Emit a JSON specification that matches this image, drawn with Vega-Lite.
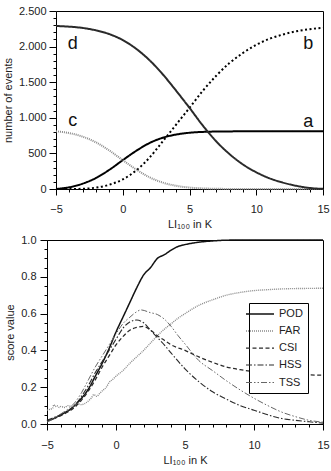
{
  "$schema": "https://vega.github.io/schema/vega-lite/v6.json",
  "padding": {"left": 2, "top": 5, "right": 0, "bottom": 0},
  "background": "white",
  "spacing": 4,
  "resolve": {
    "scale": {"color": "independent", "strokeDash": "independent", "strokeWidth": "independent"},
    "legend": {"color": "independent", "strokeDash": "independent"}
  },
  "config": {
    "font": "Liberation Sans",
    "view": {"stroke": "#000", "strokeWidth": 1},
    "axis": {
      "grid": false,
      "domainColor": "#000",
      "tickColor": "#000",
      "labelColor": "#222",
      "titleColor": "#222",
      "labelFont": "Liberation Sans",
      "titleFont": "Liberation Sans",
      "labelFontSize": 11,
      "titleFontSize": 11,
      "titleFontWeight": "normal"
    },
    "legend": {"labelFont": "Liberation Sans"}
  },
  "datasets": {
    "counts": [
      {"x": -5, "curve": "a", "n": 0}, {"x": -4, "curve": "a", "n": 25}, {"x": -3, "curve": "a", "n": 75},
      {"x": -2, "curve": "a", "n": 155}, {"x": -1, "curve": "a", "n": 270}, {"x": 0, "curve": "a", "n": 405},
      {"x": 1, "curve": "a", "n": 535}, {"x": 2, "curve": "a", "n": 645}, {"x": 3, "curve": "a", "n": 720},
      {"x": 4, "curve": "a", "n": 765}, {"x": 5, "curve": "a", "n": 790}, {"x": 6, "curve": "a", "n": 802},
      {"x": 7, "curve": "a", "n": 807}, {"x": 8, "curve": "a", "n": 809}, {"x": 9, "curve": "a", "n": 810},
      {"x": 10, "curve": "a", "n": 810}, {"x": 11, "curve": "a", "n": 810}, {"x": 12, "curve": "a", "n": 810},
      {"x": 13, "curve": "a", "n": 810}, {"x": 14, "curve": "a", "n": 810}, {"x": 15, "curve": "a", "n": 810},

      {"x": -5, "curve": "b", "n": 0}, {"x": -4, "curve": "b", "n": 0}, {"x": -3, "curve": "b", "n": 3},
      {"x": -2, "curve": "b", "n": 20}, {"x": -1, "curve": "b", "n": 60}, {"x": 0, "curve": "b", "n": 135},
      {"x": 1, "curve": "b", "n": 260}, {"x": 2, "curve": "b", "n": 440}, {"x": 3, "curve": "b", "n": 670},
      {"x": 4, "curve": "b", "n": 905}, {"x": 5, "curve": "b", "n": 1140}, {"x": 6, "curve": "b", "n": 1380},
      {"x": 7, "curve": "b", "n": 1590}, {"x": 8, "curve": "b", "n": 1770}, {"x": 9, "curve": "b", "n": 1910},
      {"x": 10, "curve": "b", "n": 2025}, {"x": 11, "curve": "b", "n": 2110}, {"x": 12, "curve": "b", "n": 2170},
      {"x": 13, "curve": "b", "n": 2215}, {"x": 14, "curve": "b", "n": 2245}, {"x": 15, "curve": "b", "n": 2265},

      {"x": -5, "curve": "c", "n": 810}, {"x": -4, "curve": "c", "n": 785}, {"x": -3, "curve": "c", "n": 735},
      {"x": -2, "curve": "c", "n": 655}, {"x": -1, "curve": "c", "n": 540}, {"x": 0, "curve": "c", "n": 405},
      {"x": 1, "curve": "c", "n": 275}, {"x": 2, "curve": "c", "n": 165}, {"x": 3, "curve": "c", "n": 90},
      {"x": 4, "curve": "c", "n": 45}, {"x": 5, "curve": "c", "n": 20}, {"x": 6, "curve": "c", "n": 8},
      {"x": 7, "curve": "c", "n": 3}, {"x": 8, "curve": "c", "n": 1}, {"x": 9, "curve": "c", "n": 0},
      {"x": 10, "curve": "c", "n": 0}, {"x": 11, "curve": "c", "n": 0}, {"x": 12, "curve": "c", "n": 0},
      {"x": 13, "curve": "c", "n": 0}, {"x": 14, "curve": "c", "n": 0}, {"x": 15, "curve": "c", "n": 0},

      {"x": -5, "curve": "d", "n": 2290}, {"x": -4, "curve": "d", "n": 2280}, {"x": -3, "curve": "d", "n": 2262},
      {"x": -2, "curve": "d", "n": 2228}, {"x": -1, "curve": "d", "n": 2175}, {"x": 0, "curve": "d", "n": 2092},
      {"x": 1, "curve": "d", "n": 1970}, {"x": 2, "curve": "d", "n": 1810}, {"x": 3, "curve": "d", "n": 1610},
      {"x": 4, "curve": "d", "n": 1380}, {"x": 5, "curve": "d", "n": 1140}, {"x": 6, "curve": "d", "n": 890},
      {"x": 7, "curve": "d", "n": 670}, {"x": 8, "curve": "d", "n": 490}, {"x": 9, "curve": "d", "n": 345},
      {"x": 10, "curve": "d", "n": 235}, {"x": 11, "curve": "d", "n": 150}, {"x": 12, "curve": "d", "n": 90},
      {"x": 13, "curve": "d", "n": 45}, {"x": 14, "curve": "d", "n": 15}, {"x": 15, "curve": "d", "n": 2}
    ],
    "letters": [
      {"x": -3.75, "n": 2030, "t": "d"},
      {"x": 13.9, "n": 2030, "t": "b"},
      {"x": -3.75, "n": 950, "t": "c"},
      {"x": 13.9, "n": 945, "t": "a"}
    ],
    "scores": [
      {"x": -5, "s": "POD", "v": 0.015}, {"x": -4.5, "s": "POD", "v": 0.03}, {"x": -4, "s": "POD", "v": 0.05},
      {"x": -3.5, "s": "POD", "v": 0.07}, {"x": -3, "s": "POD", "v": 0.1}, {"x": -2.5, "s": "POD", "v": 0.14},
      {"x": -2, "s": "POD", "v": 0.19}, {"x": -1.5, "s": "POD", "v": 0.26}, {"x": -1, "s": "POD", "v": 0.33},
      {"x": -0.5, "s": "POD", "v": 0.41}, {"x": 0, "s": "POD", "v": 0.5}, {"x": 0.5, "s": "POD", "v": 0.58},
      {"x": 1, "s": "POD", "v": 0.66}, {"x": 1.5, "s": "POD", "v": 0.74}, {"x": 2, "s": "POD", "v": 0.81},
      {"x": 2.5, "s": "POD", "v": 0.85}, {"x": 3, "s": "POD", "v": 0.9}, {"x": 3.5, "s": "POD", "v": 0.92},
      {"x": 4, "s": "POD", "v": 0.945}, {"x": 4.5, "s": "POD", "v": 0.965}, {"x": 5, "s": "POD", "v": 0.975},
      {"x": 6, "s": "POD", "v": 0.988}, {"x": 7, "s": "POD", "v": 0.995}, {"x": 8, "s": "POD", "v": 0.999},
      {"x": 9, "s": "POD", "v": 1.0}, {"x": 10, "s": "POD", "v": 1.0}, {"x": 12, "s": "POD", "v": 1.0},
      {"x": 15, "s": "POD", "v": 1.0},

      {"x": -5, "s": "FAR", "v": 0.075}, {"x": -4.8, "s": "FAR", "v": 0.08}, {"x": -4.6, "s": "FAR", "v": 0.085},
      {"x": -4.5, "s": "FAR", "v": 0.105}, {"x": -4.4, "s": "FAR", "v": 0.095}, {"x": -4.3, "s": "FAR", "v": 0.1},
      {"x": -4.1, "s": "FAR", "v": 0.09}, {"x": -4, "s": "FAR", "v": 0.095}, {"x": -3.7, "s": "FAR", "v": 0.09},
      {"x": -3.5, "s": "FAR", "v": 0.1}, {"x": -3.2, "s": "FAR", "v": 0.095}, {"x": -3, "s": "FAR", "v": 0.1},
      {"x": -2.8, "s": "FAR", "v": 0.11}, {"x": -2.5, "s": "FAR", "v": 0.105}, {"x": -2.3, "s": "FAR", "v": 0.11},
      {"x": -2, "s": "FAR", "v": 0.125}, {"x": -1.8, "s": "FAR", "v": 0.14}, {"x": -1.6, "s": "FAR", "v": 0.16},
      {"x": -1.4, "s": "FAR", "v": 0.15}, {"x": -1.2, "s": "FAR", "v": 0.165}, {"x": -1, "s": "FAR", "v": 0.18},
      {"x": -0.7, "s": "FAR", "v": 0.2}, {"x": -0.5, "s": "FAR", "v": 0.225}, {"x": -0.2, "s": "FAR", "v": 0.245},
      {"x": 0, "s": "FAR", "v": 0.26}, {"x": 0.5, "s": "FAR", "v": 0.29}, {"x": 1, "s": "FAR", "v": 0.33},
      {"x": 1.5, "s": "FAR", "v": 0.365}, {"x": 2, "s": "FAR", "v": 0.4}, {"x": 2.5, "s": "FAR", "v": 0.44},
      {"x": 3, "s": "FAR", "v": 0.48}, {"x": 3.5, "s": "FAR", "v": 0.515}, {"x": 4, "s": "FAR", "v": 0.545},
      {"x": 4.5, "s": "FAR", "v": 0.575}, {"x": 5, "s": "FAR", "v": 0.6}, {"x": 6, "s": "FAR", "v": 0.645},
      {"x": 7, "s": "FAR", "v": 0.675}, {"x": 8, "s": "FAR", "v": 0.7}, {"x": 9, "s": "FAR", "v": 0.715},
      {"x": 10, "s": "FAR", "v": 0.725}, {"x": 11, "s": "FAR", "v": 0.73}, {"x": 12, "s": "FAR", "v": 0.734},
      {"x": 13, "s": "FAR", "v": 0.736}, {"x": 14, "s": "FAR", "v": 0.737}, {"x": 15, "s": "FAR", "v": 0.738},

      {"x": -5, "s": "CSI", "v": 0.015}, {"x": -4.5, "s": "CSI", "v": 0.03}, {"x": -4, "s": "CSI", "v": 0.045},
      {"x": -3.5, "s": "CSI", "v": 0.065}, {"x": -3, "s": "CSI", "v": 0.09}, {"x": -2.5, "s": "CSI", "v": 0.13},
      {"x": -2, "s": "CSI", "v": 0.18}, {"x": -1.5, "s": "CSI", "v": 0.24}, {"x": -1, "s": "CSI", "v": 0.31},
      {"x": -0.5, "s": "CSI", "v": 0.37}, {"x": 0, "s": "CSI", "v": 0.43}, {"x": 0.5, "s": "CSI", "v": 0.475},
      {"x": 1, "s": "CSI", "v": 0.51}, {"x": 1.5, "s": "CSI", "v": 0.525}, {"x": 2, "s": "CSI", "v": 0.53},
      {"x": 2.5, "s": "CSI", "v": 0.51}, {"x": 3, "s": "CSI", "v": 0.48}, {"x": 3.5, "s": "CSI", "v": 0.455},
      {"x": 4, "s": "CSI", "v": 0.43}, {"x": 5, "s": "CSI", "v": 0.4}, {"x": 6, "s": "CSI", "v": 0.365},
      {"x": 7, "s": "CSI", "v": 0.335}, {"x": 8, "s": "CSI", "v": 0.31}, {"x": 9, "s": "CSI", "v": 0.295},
      {"x": 10, "s": "CSI", "v": 0.285}, {"x": 11, "s": "CSI", "v": 0.278}, {"x": 12, "s": "CSI", "v": 0.273},
      {"x": 13, "s": "CSI", "v": 0.27}, {"x": 14, "s": "CSI", "v": 0.267}, {"x": 15, "s": "CSI", "v": 0.265},

      {"x": -5, "s": "HSS", "v": 0.02}, {"x": -4.5, "s": "HSS", "v": 0.035}, {"x": -4, "s": "HSS", "v": 0.05},
      {"x": -3.5, "s": "HSS", "v": 0.07}, {"x": -3, "s": "HSS", "v": 0.1}, {"x": -2.5, "s": "HSS", "v": 0.15},
      {"x": -2, "s": "HSS", "v": 0.21}, {"x": -1.5, "s": "HSS", "v": 0.28}, {"x": -1, "s": "HSS", "v": 0.34},
      {"x": -0.5, "s": "HSS", "v": 0.4}, {"x": 0, "s": "HSS", "v": 0.46}, {"x": 0.5, "s": "HSS", "v": 0.52},
      {"x": 1, "s": "HSS", "v": 0.555}, {"x": 1.5, "s": "HSS", "v": 0.565}, {"x": 2, "s": "HSS", "v": 0.55},
      {"x": 2.5, "s": "HSS", "v": 0.51}, {"x": 3, "s": "HSS", "v": 0.47}, {"x": 3.5, "s": "HSS", "v": 0.43},
      {"x": 4, "s": "HSS", "v": 0.385}, {"x": 5, "s": "HSS", "v": 0.3}, {"x": 6, "s": "HSS", "v": 0.23},
      {"x": 7, "s": "HSS", "v": 0.175}, {"x": 8, "s": "HSS", "v": 0.135}, {"x": 9, "s": "HSS", "v": 0.1},
      {"x": 10, "s": "HSS", "v": 0.075}, {"x": 11, "s": "HSS", "v": 0.05}, {"x": 12, "s": "HSS", "v": 0.03},
      {"x": 13, "s": "HSS", "v": 0.02}, {"x": 14, "s": "HSS", "v": 0.012}, {"x": 15, "s": "HSS", "v": 0.005},

      {"x": -5, "s": "TSS", "v": 0.01}, {"x": -4.5, "s": "TSS", "v": 0.03}, {"x": -4, "s": "TSS", "v": 0.055},
      {"x": -3.5, "s": "TSS", "v": 0.08}, {"x": -3, "s": "TSS", "v": 0.115}, {"x": -2.5, "s": "TSS", "v": 0.17},
      {"x": -2, "s": "TSS", "v": 0.24}, {"x": -1.5, "s": "TSS", "v": 0.31}, {"x": -1, "s": "TSS", "v": 0.37},
      {"x": -0.5, "s": "TSS", "v": 0.43}, {"x": 0, "s": "TSS", "v": 0.49}, {"x": 0.5, "s": "TSS", "v": 0.545},
      {"x": 1, "s": "TSS", "v": 0.58}, {"x": 1.5, "s": "TSS", "v": 0.61}, {"x": 1.8, "s": "TSS", "v": 0.62},
      {"x": 2.5, "s": "TSS", "v": 0.605}, {"x": 3, "s": "TSS", "v": 0.595}, {"x": 3.5, "s": "TSS", "v": 0.57},
      {"x": 4, "s": "TSS", "v": 0.53}, {"x": 4.5, "s": "TSS", "v": 0.48}, {"x": 5, "s": "TSS", "v": 0.435},
      {"x": 6, "s": "TSS", "v": 0.345}, {"x": 7, "s": "TSS", "v": 0.29}, {"x": 8, "s": "TSS", "v": 0.235},
      {"x": 9, "s": "TSS", "v": 0.185}, {"x": 10, "s": "TSS", "v": 0.14}, {"x": 11, "s": "TSS", "v": 0.1},
      {"x": 12, "s": "TSS", "v": 0.065}, {"x": 13, "s": "TSS", "v": 0.04}, {"x": 14, "s": "TSS", "v": 0.02},
      {"x": 15, "s": "TSS", "v": 0.01}
    ]
  },
  "vconcat": [
    {
      "width": 276,
      "height": 178,
      "view": {"stroke": null},
      "resolve": {"axis": {"x": "independent", "y": "independent"}},
      "layer": [
        {
          "data": {"name": "counts"},
          "mark": {"type": "line", "interpolate": "monotone"},
          "encoding": {
            "x": {
              "field": "x", "type": "quantitative",
              "scale": {"domain": [-5, 15], "nice": false, "range": [9, 276]},
              "axis": {
                "orient": "bottom",
                "title": "LI₁₀₀ in K",
                "values": [-5, 0, 5, 10, 15],
                "format": "d",
                "labelOverlap": false,
                "labelFlush": false,
                "tickSize": 6,
                "labelPadding": 8,
                "titlePadding": 4
              }
            },
            "y": {
              "field": "n", "type": "quantitative",
              "scale": {"domain": [0, 2500], "nice": false},
              "axis": {
                "orient": "left",
                "title": "number of events",
                "offset": -9,
                "values": [0, 500, 1000, 1500, 2000, 2500],
                "labelExpr": "replace(format(datum.value, ','), ',', '.')",
                "labelOverlap": false,
                "labelFlush": false,
                "tickSize": 7,
                "labelPadding": 3,
                "titlePadding": 5
              }
            },
            "detail": {"field": "curve"},
            "color": {
              "field": "curve", "type": "nominal", "legend": null,
              "scale": {"domain": ["a", "b", "c", "d"], "range": ["#000000", "#000000", "#8a8a8a", "#2a2a2a"]}
            },
            "strokeDash": {
              "field": "curve", "type": "nominal", "legend": null,
              "scale": {"domain": ["a", "b", "c", "d"], "range": [[1, 0], [2, 2.5], [1, 1], [1, 0]]}
            },
            "strokeWidth": {
              "field": "curve", "type": "nominal", "legend": null,
              "scale": {"domain": ["a", "b", "c", "d"], "range": [2, 2, 1, 1.1]}
            }
          }
        },
        {
          "data": {"name": "letters"},
          "mark": {"type": "text", "fontSize": 18, "font": "Liberation Sans", "color": "#111", "baseline": "middle", "align": "center"},
          "encoding": {
            "x": {
              "field": "x", "type": "quantitative",
              "axis": {
                "orient": "bottom",
                "title": null, "labels": false, "domain": false, "tickSize": 3,
                "values": [-4, -3, -2, -1, 1, 2, 3, 4, 6, 7, 8, 9, 11, 12, 13, 14]
              }
            },
            "y": {
              "field": "n", "type": "quantitative",
              "axis": {
                "orient": "left",
                "title": null, "labels": false, "domain": false, "tickSize": 3, "offset": -9,
                "values": [100, 200, 300, 400, 600, 700, 800, 900, 1100, 1200, 1300, 1400, 1600, 1700, 1800, 1900, 2100, 2200, 2300, 2400]
              }
            },
            "text": {"field": "t"}
          }
        },
        {
          "data": {"name": "letters"},
          "mark": {"type": "point", "opacity": 0},
          "encoding": {
            "x": {
              "field": "x", "type": "quantitative",
              "axis": {"orient": "top", "title": null, "labels": false, "ticks": false, "domain": true}
            },
            "y": {
              "field": "n", "type": "quantitative",
              "axis": {"orient": "right", "title": null, "labels": false, "ticks": false, "domain": true}
            }
          }
        }
      ]
    },
    {
      "width": 276,
      "height": 184,
      "data": {"name": "scores"},
      "resolve": {"axis": {"x": "independent", "y": "independent"}},
      "layer": [
        {
          "mark": {"type": "line", "interpolate": "monotone"},
          "encoding": {
            "x": {
              "field": "x", "type": "quantitative",
              "scale": {"domain": [-5, 15], "nice": false},
              "axis": {
                "orient": "bottom",
                "title": "LI₁₀₀ in K",
                "values": [-5, 0, 5, 10, 15],
                "format": "d",
                "labelOverlap": false,
                "labelFlush": false,
                "tickSize": 6,
                "labelPadding": 9,
                "titlePadding": 4
              }
            },
            "y": {
              "field": "v", "type": "quantitative",
              "scale": {"domain": [0, 1], "nice": false},
              "axis": {
                "orient": "left",
                "title": "score value",
                "values": [0, 0.2, 0.4, 0.6, 0.8, 1],
                "format": ".1f",
                "labelOverlap": false,
                "labelFlush": false,
                "tickSize": 7,
                "labelPadding": 4,
                "titlePadding": 5
              }
            },
            "color": {
              "field": "s", "type": "nominal",
              "scale": {"domain": ["POD", "FAR", "CSI", "HSS", "TSS"], "range": ["#111111", "#8a8a8a", "#2a2a2a", "#2a2a2a", "#666666"]},
              "legend": {
                "title": null,
                "orient": "none",
                "legendX": 202,
                "legendY": 63,
                "strokeColor": "#000",
                "padding": 5,
                "fillColor": "white",
                "symbolType": "M-2.8,0H2.8",
                "symbolSize": 100,
                "symbolStrokeWidth": 1.2,
                "labelFontSize": 11,
                "labelColor": "#222",
                "labelOffset": 13,
                "rowPadding": 6
              }
            },
            "strokeDash": {
              "field": "s", "type": "nominal",
              "scale": {"domain": ["POD", "FAR", "CSI", "HSS", "TSS"], "range": [[1, 0], [1, 1], [4, 2.5], [6, 2, 1.5, 2], [6, 2, 1.5, 2, 1.5, 2]]},
              "legend": {
                "title": null,
                "orient": "none",
                "legendX": 202,
                "legendY": 63,
                "strokeColor": "#000",
                "padding": 5,
                "fillColor": "white",
                "symbolType": "M-2.8,0H2.8",
                "symbolSize": 100,
                "symbolStrokeWidth": 1.2,
                "labelFontSize": 11,
                "labelColor": "#222",
                "labelOffset": 13,
                "rowPadding": 6
              }
            },
            "strokeWidth": {
              "field": "s", "type": "nominal", "legend": null,
              "scale": {"domain": ["POD", "FAR", "CSI", "HSS", "TSS"], "range": [1.5, 1, 1.2, 1.2, 1]}
            }
          }
        },
        {
          "mark": {"type": "point", "opacity": 0},
          "encoding": {
            "x": {
              "field": "x", "type": "quantitative",
              "axis": {
                "orient": "bottom",
                "title": null, "labels": false, "domain": false, "tickSize": 3,
                "values": [-4, -3, -2, -1, 1, 2, 3, 4, 6, 7, 8, 9, 11, 12, 13, 14]
              }
            },
            "y": {
              "field": "v", "type": "quantitative",
              "axis": {
                "orient": "left",
                "title": null, "labels": false, "domain": false, "tickSize": 3,
                "values": [0.05, 0.1, 0.15, 0.25, 0.3, 0.35, 0.45, 0.5, 0.55, 0.65, 0.7, 0.75, 0.85, 0.9, 0.95]
              }
            }
          }
        }
      ]
    }
  ]
}
